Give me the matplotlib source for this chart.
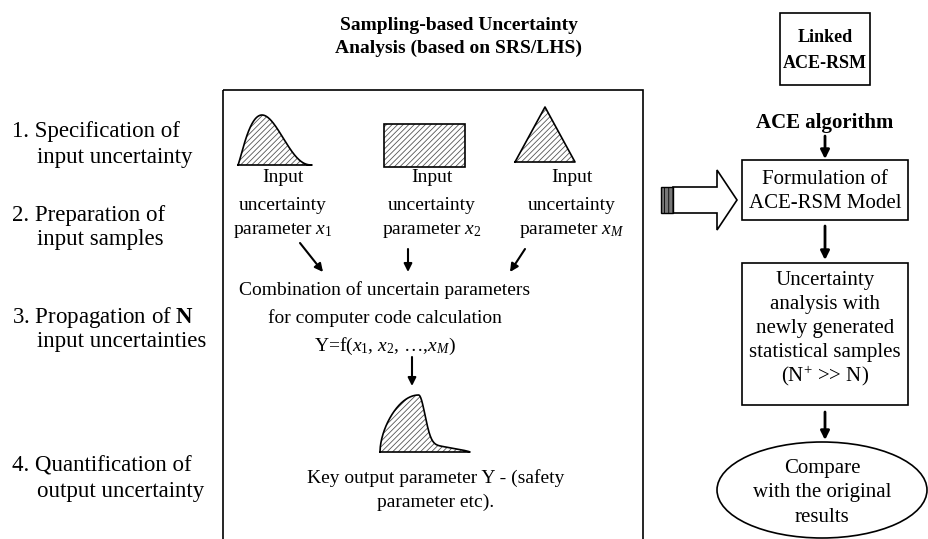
import numpy as np
import matplotlib
matplotlib.use("Agg")
import matplotlib.pyplot as plt
from matplotlib.patches import Rectangle, Polygon, Ellipse

plt.rcParams['font.family'] = ['Liberation Serif', 'DejaVu Serif']
plt.rcParams['mathtext.fontset'] = 'custom'
plt.rcParams['mathtext.rm'] = 'Liberation Serif'
plt.rcParams['mathtext.it'] = 'Liberation Serif:italic'
plt.rcParams['mathtext.bf'] = 'Liberation Serif:bold'
plt.rcParams['hatch.linewidth'] = 0.6

# ---- text content ----
title_lines = ["Sampling-based Uncertainty", "Analysis (based on SRS/LHS)"]
step_first = ["1. Specification of", "2. Preparation of",
              "3. Propagation of $\\mathbf{N}$", "4. Quantification of"]
step_second = ["input uncertainty", "input samples",
               "input uncertainties", "output uncertainty"]
param_symbols = ["$x_1$", "$x_2$", "$x_M$"]
combo_lines = ["Combination of uncertain parameters",
               "for computer code calculation",
               "Y=f($x_1$, $x_2$, \u2026,$x_M$)"]
output_lines = ["Key output parameter Y - (safety", "parameter etc)."]
linked_lines = ["Linked", "ACE-RSM"]
ace_label = "ACE algorithm"
formulation_lines = ["Formulation of", "ACE-RSM Model"]
uncert_lines = ["Uncertainty", "analysis with", "newly generated",
                "statistical samples", "(N$^{+}$ >> N)"]
compare_lines = ["Compare", "with the original", "results"]

fig = plt.figure(figsize=(9.29, 5.39), dpi=100)
ax = fig.add_axes([0, 0, 1, 1])
ax.set_xlim(0, 929)
ax.set_ylim(539, 0)
ax.axis('off')

def arrow(x0, y0, x1, y1, lw=1.5, ms=12):
    ax.annotate('', xy=(x1, y1), xytext=(x0, y0),
                arrowprops=dict(arrowstyle='-|>', color='black', lw=lw,
                                mutation_scale=ms, shrinkA=0, shrinkB=0))

def hatched(xs, ys):
    ax.fill(xs, ys, facecolor='white', edgecolor='#555555', hatch='//////',
            linewidth=0)
    ax.plot(xs, ys, color='black', lw=1.2)

# ---- title ----
for i, t in enumerate(title_lines):
    ax.text(459, 25 + 23 * i, t, ha='center', va='center', fontsize=14,
            fontweight='bold')

# ---- main box ----
ax.add_patch(Rectangle((223, 90), 420, 470, fill=False, lw=1.2,
                       edgecolor='black'))

# ---- left steps ----
step_y = [132, 215, 317, 466]
for y, a, b in zip(step_y, step_first, step_second):
    ax.text(12, y, a, ha='left', va='center', fontsize=16.5)
    ax.text(37, y + 25, b, ha='left', va='center', fontsize=16.5)

# ---- input distributions ----
t = np.linspace(0, 1, 300)
beta = t ** 1.2 * (1 - t) ** 2.5
beta = beta / beta.max()
x0, x1, base, h = 238, 312, 165, 50
xs = x0 + (x1 - x0) * t
ys = base - h * beta
hatched(np.r_[xs, xs[0]], np.r_[ys, base])

# uniform
rx0, rx1, ry0, ry1 = 384, 465, 124, 167
ax.add_patch(Rectangle((rx0, ry0), rx1 - rx0, ry1 - ry0, facecolor='white',
                       edgecolor='#555555', hatch='//////', lw=0))
ax.add_patch(Rectangle((rx0, ry0), rx1 - rx0, ry1 - ry0, fill=False,
                       edgecolor='black', lw=1.2))
# triangular
tx = [515, 545, 575, 515]
ty = [162, 107, 162, 162]
hatched(tx, ty)

# labels under inputs
label_cx = [283, 432, 572]
for cx, sym in zip(label_cx, param_symbols):
    ax.text(cx, 178, "Input", ha='center', va='center', fontsize=14)
    ax.text(cx, 205, "uncertainty", ha='center', va='center', fontsize=14)
    ax.text(cx, 231, "parameter " + sym, ha='center', va='center',
            fontsize=14)

# arrows to combination
arrow(300, 243, 323, 272)
arrow(408, 249, 408, 272)
arrow(525, 249, 510, 272)

for i, s in enumerate(combo_lines):
    ax.text(385, 290 + 28 * i, s, ha='center', va='center', fontsize=14)

arrow(412, 357, 412, 386)

# output distribution
tp = 0.43
left = np.sin(np.pi / 2 * np.clip(t / tp, 0, 1)) ** 0.55
dt = np.clip(t - tp, 0, None)
right = 0.84 * np.exp(-(dt / 0.098) ** 2) + \
    0.16 * np.clip(1 - dt / (1 - tp), 0, 1) ** 0.8
yo = np.where(t <= tp, left, right)
ox0, ox1, obase, oh = 380, 470, 452, 57
oxs = ox0 + (ox1 - ox0) * t
oys = obase - oh * yo
hatched(np.r_[oxs, oxs[0]], np.r_[oys, obase])

for i, s in enumerate(output_lines):
    ax.text(436, 478 + 24 * i, s, ha='center', va='center', fontsize=14)

# ---- hollow arrow ----
cy = 200
ax.add_patch(Polygon([(673, cy - 13), (717, cy - 13), (717, cy - 30),
                      (737, cy), (717, cy + 30), (717, cy + 13),
                      (673, cy + 13)], closed=True, facecolor='white',
                     edgecolor='black', lw=1.2))
ax.add_patch(Rectangle((661, cy - 13), 12, 26, facecolor='#777777',
                       edgecolor='black', hatch='||||', lw=1.0))

# ---- right column ----
rc = 825
ax.add_patch(Rectangle((rc - 45, 13), 90, 72, fill=False, lw=1.2,
                       edgecolor='black'))
for i, s in enumerate(linked_lines):
    ax.text(rc, 37 + 27 * i, s, ha='center', va='center', fontsize=13,
            fontweight='bold')
ax.text(rc, 123, ace_label, ha='center', va='center', fontsize=15,
        fontweight='bold')
arrow(rc, 136, rc, 159, lw=2, ms=13)

ax.add_patch(Rectangle((742, 160), 166, 60, fill=False, lw=1.2,
                       edgecolor='black'))
for i, s in enumerate(formulation_lines):
    ax.text(rc, 180 + 23 * i, s, ha='center', va='center', fontsize=15)
arrow(rc, 226, rc, 260, lw=2, ms=13)

ax.add_patch(Rectangle((742, 263), 166, 142, fill=False, lw=1.2,
                       edgecolor='black'))
for i, s in enumerate(uncert_lines):
    ax.text(rc, 280 + 24 * i, s, ha='center', va='center', fontsize=15)
arrow(rc, 412, rc, 440, lw=2, ms=13)

ax.add_patch(Ellipse((rc - 3, 490), 210, 96, fill=False, lw=1.2,
                     edgecolor='black'))
for i, s in enumerate(compare_lines):
    ax.text(rc - 3, 468 + 25 * i, s, ha='center', va='center', fontsize=15)

fig.savefig("out.png", dpi=100)
